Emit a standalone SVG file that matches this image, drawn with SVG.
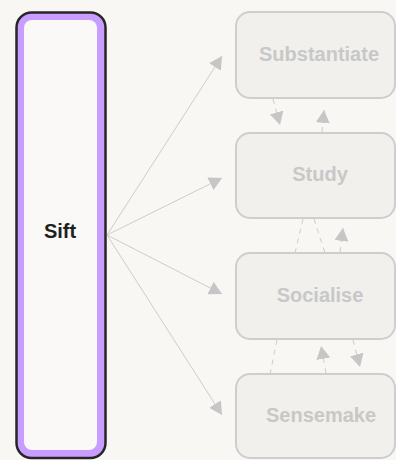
<svg xmlns="http://www.w3.org/2000/svg" width="396" height="460" viewBox="0 0 396 460">
  <defs>
    <marker id="arr" markerUnits="userSpaceOnUse" markerWidth="14" markerHeight="14" refX="13" refY="7" orient="auto">
      <path d="M0,0 L13,7 L0,14 z" fill="#c6c6c6"/>
    </marker>
    <style>
      .bg { fill: #f8f7f4; }
      .edge { stroke: #cdcdcd; stroke-width: 1; fill: none; }
      .dash { stroke: #cdcdcd; stroke-width: 1; fill: none; stroke-dasharray: 5 5; }
      .node rect { fill: #f1f0ed; stroke: #cecece; stroke-width: 2; }
      .node text { fill: #c8c8c8; font-family: "Liberation Sans", Arial, sans-serif; font-size: 20px; font-weight: bold; text-anchor: middle; }
      .sift-label { fill: #1f1f1f; font-family: "Liberation Sans", Arial, sans-serif; font-size: 20px; font-weight: bold; text-anchor: middle; }
    </style>
  </defs>
  <rect class="bg" x="0" y="0" width="396" height="460"/>

  <g id="connectors">
    <line class="edge" x1="107" y1="235" x2="222" y2="56" marker-end="url(#arr)"/>
    <line class="edge" x1="107" y1="235" x2="222" y2="178" marker-end="url(#arr)"/>
    <line class="edge" x1="107" y1="235" x2="222" y2="294" marker-end="url(#arr)"/>
    <line class="edge" x1="107" y1="235" x2="222" y2="415" marker-end="url(#arr)"/>

    <line class="dash" x1="273" y1="99" x2="280" y2="125" marker-end="url(#arr)"/>
    <line class="dash" x1="322" y1="132" x2="324" y2="110" marker-end="url(#arr)"/>

    <line class="dash" x1="303" y1="219" x2="295" y2="253"/>
    <line class="dash" x1="314" y1="219" x2="325" y2="253"/>
    <line class="dash" x1="340" y1="252" x2="343" y2="228" marker-end="url(#arr)"/>

    <line class="dash" x1="277" y1="340" x2="270" y2="374"/>
    <line class="dash" x1="326" y1="373" x2="321" y2="346" marker-end="url(#arr)"/>
    <line class="dash" x1="353" y1="340" x2="360" y2="367" marker-end="url(#arr)"/>
  </g>

  <g id="sift">
    <rect x="16.5" y="12.5" width="89" height="445.5" rx="15" fill="#c99cff" stroke="#262626" stroke-width="2.5"/>
    <rect x="24" y="20" width="73" height="430" rx="8" fill="#faf9f7"/>
    <text class="sift-label" x="60" y="238">Sift</text>
  </g>

  <g id="substantiate" class="node">
    <rect x="236" y="12" width="159" height="86" rx="14"/>
    <text x="319" y="61">Substantiate</text>
  </g>
  <g id="study" class="node">
    <rect x="236" y="133" width="159" height="85" rx="14"/>
    <text x="320" y="181">Study</text>
  </g>
  <g id="socialise" class="node">
    <rect x="236" y="253" width="159" height="86" rx="14"/>
    <text x="320" y="302">Socialise</text>
  </g>
  <g id="sensemake" class="node">
    <rect x="236" y="374" width="159" height="84" rx="14"/>
    <text x="321" y="422">Sensemake</text>
  </g>
</svg>
